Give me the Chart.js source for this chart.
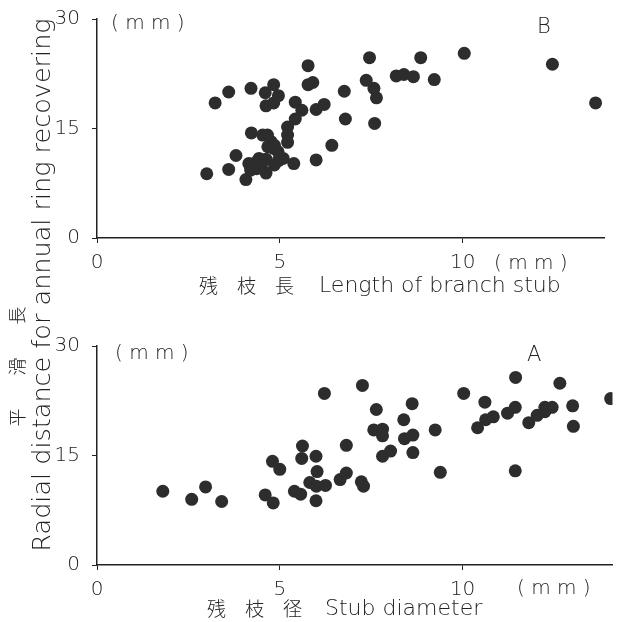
<!DOCTYPE html>
<html>
<head>
<meta charset="utf-8">
<script src="https://cdn.jsdelivr.net/npm/chart.js@4.4.1/dist/chart.umd.min.js"></script>
<style>
  html, body { margin: 0; padding: 0; background: #fff; }
  body { width: 619px; height: 622px; position: relative; overflow: hidden;
         font-family: "DejaVu Sans", "Noto Sans CJK JP", sans-serif; font-weight: 200; color: #222; }
  .box { position: absolute; left: 0; }
  .t { position: absolute; white-space: pre; line-height: 1; }
  .cjk { font-family: "Noto Sans CJK JP", sans-serif; font-weight: 300; }
</style>
</head>
<body>
<div class="box" style="top:-5px;width:619px;height:305px"><canvas id="cB" width="619" height="305"></canvas></div>
<div class="box" style="top:300px;width:619px;height:322px"><canvas id="cA" width="619" height="322"></canvas></div>

<!-- shared y title -->
<div class="t" style="left:42px;top:285px;font-size:25.5px;transform:translate(-50%,-50%) rotate(-90deg);">Radial distance for annual ring recovering</div>
<div class="t cjk" style="left:16px;top:350px;font-size:18px;letter-spacing:33px;transform:translate(-50%,-50%) rotate(-90deg);">平滑長</div>

<!-- top panel texts -->
<div class="t" style="left:111px;top:12px;font-size:20px;">( m m )</div>
<div class="t" style="left:537px;top:16px;font-size:21px;">B</div>
<div class="t" style="left:494px;top:252px;font-size:20px;">( m m )</div>
<div class="t cjk" style="left:199px;top:275px;font-size:19px;">残</div>
<div class="t cjk" style="left:237px;top:275px;font-size:19px;">枝</div>
<div class="t cjk" style="left:275px;top:275px;font-size:19px;">長</div>
<div class="t" style="left:319px;top:274px;font-size:22px;">Length of branch stub</div>

<!-- bottom panel texts -->
<div class="t" style="left:115px;top:342px;font-size:20px;">( m m )</div>
<div class="t" style="left:527px;top:344px;font-size:21px;">A</div>
<div class="t" style="left:517px;top:577px;font-size:20px;">( m m )</div>
<div class="t cjk" style="left:207px;top:598px;font-size:19px;">残</div>
<div class="t cjk" style="left:245px;top:598px;font-size:19px;">枝</div>
<div class="t cjk" style="left:283px;top:598px;font-size:19px;">径</div>
<div class="t" style="left:325px;top:597px;font-size:22px;">Stub diameter</div>

<script>
// ---- Data ----
// Panel B: Length of branch stub (mm) vs radial distance (mm)
const lengthX = [3.0, 3.23, 3.6, 3.6, 3.8, 4.21, 4.22, 4.07, 4.15, 4.43, 4.36, 4.2, 4.62, 4.62, 4.85, 4.96,
  4.67, 4.81, 4.76, 4.85, 4.53, 4.66, 4.6, 4.83, 4.62, 4.83, 4.96, 5.21, 5.21, 5.21, 5.38, 5.42,
  5.42, 5.6, 5.77, 5.77, 5.9, 5.99, 6.21, 5.99, 6.42, 6.76, 6.79, 7.45, 7.36, 7.57, 7.64, 7.59,
  8.18, 8.39, 8.65, 8.85, 9.22, 10.04, 12.45, 13.63, 4.95, 5.09, 4.5, 4.33];
const lengthY = [8.8, 18.5, 20.0, 9.4, 11.3, 20.5, 14.4, 8.0, 10.2, 10.9, 9.5, 9.3, 8.9, 10.8, 10.0, 10.6,
  12.5, 12.3, 13.2, 12.7, 14.1, 14.1, 19.9, 21.0, 18.1, 18.5, 19.5, 15.2, 14.1, 13.1, 10.2, 18.6,
  16.3, 17.5, 23.6, 21.0, 21.3, 17.6, 18.3, 10.7, 12.7, 20.1, 16.3, 24.7, 21.6, 20.5, 19.2, 15.7,
  22.2, 22.4, 22.1, 24.7, 21.7, 25.3, 23.8, 18.5, 11.8, 10.9, 9.6, 10.3];

// Panel A: Stub diameter (mm) vs radial distance (mm)
const diameterX = [1.8, 2.59, 2.97, 3.41, 4.6, 4.82, 4.8, 5.0, 5.4, 5.57, 5.62, 5.6, 5.82, 5.99, 6.02, 5.99,
  6.0, 6.25, 6.22, 6.65, 6.82, 6.82, 7.23, 7.29, 7.26, 7.64, 7.57, 7.81, 7.81, 7.81, 8.03, 8.39,
  8.41, 8.64, 8.62, 8.64, 9.25, 9.39, 10.03, 10.41, 10.61, 10.63, 10.84, 11.23, 11.44, 11.45, 11.44, 11.81,
  12.04, 12.25, 12.25, 12.45, 12.66, 13.01, 13.03, 14.05];
const diameterY = [10.1, 9.0, 10.7, 8.7, 9.6, 8.5, 14.2, 13.1, 10.1, 9.7, 16.3, 14.6, 11.3, 14.9, 12.8, 8.8,
  10.8, 10.9, 23.5, 11.7, 12.6, 16.4, 11.4, 10.8, 24.6, 21.3, 18.5, 18.6, 17.7, 14.9, 15.6, 19.9,
  17.3, 17.8, 22.1, 15.4, 18.5, 12.7, 23.5, 18.8, 22.3, 19.9, 20.3, 20.8, 21.6, 25.7, 12.9, 19.5,
  20.5, 21.0, 21.6, 21.6, 24.9, 21.8, 19.0, 22.8];

const yTicksStep = 15;
const xTicksStep = 5;

// ---- Rendering ----
const FONT = { family: '"DejaVu Sans", sans-serif', size: 20, weight: '200' };
const INK = '#222';
const DOT = '#2d2d2d';

function pts(xs, ys) { return xs.map((x, i) => ({ x: x, y: ys[i] })); }

function makeChart(id, xs, ys, xMax, pad, xHeight) {
  return new Chart(document.getElementById(id), {
    type: 'scatter',
    data: { datasets: [{ data: pts(xs, ys), pointRadius: 6.5, pointHoverRadius: 6.5,
      backgroundColor: DOT, pointBackgroundColor: DOT, pointBorderWidth: 0, borderWidth: 0 }] },
    options: {
      responsive: false, animation: false, events: [],
      plugins: { legend: { display: false }, tooltip: { enabled: false } },
      layout: { padding: pad },
      scales: {
        x: {
          type: 'linear', min: 0, max: xMax,
          afterFit: function (s) { s.height = xHeight; },
          ticks: { stepSize: xTicksStep, includeBounds: false, color: INK, font: FONT, padding: 8, maxRotation: 0 },
          grid: { drawOnChartArea: false, tickLength: 5, color: INK, lineWidth: 1 },
          border: { color: INK, width: 1.5 }
        },
        y: {
          type: 'linear', min: 0, max: 30,
          afterFit: function (s) { s.width = 97; },
          ticks: { stepSize: yTicksStep, color: INK, font: FONT, padding: 12 },
          grid: { drawOnChartArea: false, tickLength: 5, color: INK, lineWidth: 1 },
          border: { color: INK, width: 1.5 }
        }
      }
    }
  });
}

makeChart('cB', lengthX, lengthY, 13.86, { top: 18, right: 15, left: 0, bottom: 0 }, 62);
makeChart('cA', diameterX, diameterY, 14.1, { top: 46, right: 6, left: 0, bottom: 0 }, 57);
</script>
</body>
</html>
